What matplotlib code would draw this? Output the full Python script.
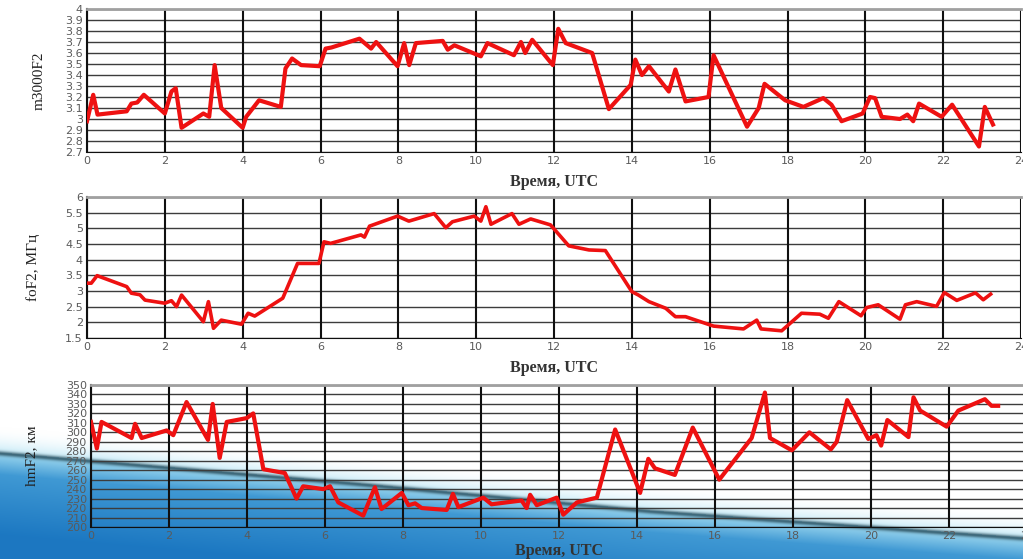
import numpy as np
import matplotlib
matplotlib.use("Agg")
import matplotlib.pyplot as plt

# m3000F2
t_m3000 = [0, 0.16, 0.27, 1.02, 1.14, 1.29, 1.46, 2.0, 2.17, 2.28, 2.43, 2.99, 3.14, 3.28, 3.45,
           4.0, 4.09, 4.42, 4.98, 5.1, 5.27, 5.5, 5.98, 6.13, 6.28, 7.0, 7.3, 7.43, 7.98, 8.15,
           8.28, 8.45, 9.14, 9.27, 9.44, 10.12, 10.29, 10.97, 11.15, 11.26, 11.44, 11.97, 12.11,
           12.3, 12.98, 13.41, 13.97, 14.09, 14.26, 14.44, 14.95, 15.12, 15.38, 15.97, 16.1,
           16.96, 17.26, 17.41, 17.94, 18.41, 18.92, 19.13, 19.39, 19.93, 20.12, 20.25, 20.42,
           20.89, 21.08, 21.23, 21.38, 21.96, 22.23, 22.92, 23.07, 23.28]
m3000 = [2.98, 3.22, 3.04, 3.07, 3.14, 3.15, 3.22, 3.05, 3.25, 3.28, 2.92, 3.05, 3.02, 3.49, 3.10,
         2.92, 3.02, 3.17, 3.11, 3.46, 3.55, 3.49, 3.48, 3.64, 3.65, 3.73, 3.64, 3.70, 3.48, 3.69,
         3.49, 3.69, 3.71, 3.63, 3.67, 3.57, 3.69, 3.58, 3.70, 3.60, 3.72, 3.49, 3.82,
         3.69, 3.60, 3.09, 3.31, 3.54, 3.40, 3.48, 3.25, 3.45, 3.16, 3.20, 3.58,
         2.93, 3.10, 3.32, 3.17, 3.11, 3.19, 3.13, 2.98, 3.05, 3.20, 3.19, 3.02,
         3.00, 3.04, 2.98, 3.14, 3.02, 3.13, 2.75, 3.11, 2.95]

# foF2
t_fof2 = [0, 0.11, 0.26, 1.02, 1.14, 1.36, 1.49, 2.0, 2.17, 2.3, 2.43, 2.99, 3.12, 3.25, 3.45,
          3.97, 4.14, 4.31, 5.03, 5.41, 5.96, 6.09, 6.26, 7.04, 7.13, 7.26, 7.98, 8.27, 8.92,
          9.22, 9.39, 9.95, 10.12, 10.25, 10.38, 10.92, 11.1, 11.4, 11.91, 12.38, 12.9, 13.32,
          14.0, 14.17, 14.44, 14.87, 15.12, 15.38, 16.1, 16.87, 17.21, 17.32, 17.85, 18.36,
          18.83, 19.05, 19.32, 19.89, 20.03, 20.33, 20.89, 21.03, 21.32, 21.83, 22.03, 22.35,
          22.83, 23.03, 23.22]
fof2 = [3.25, 3.25, 3.49, 3.14, 2.93, 2.88, 2.71, 2.61, 2.69, 2.50, 2.87, 2.02, 2.66, 1.81, 2.07,
        1.94, 2.29, 2.20, 2.77, 3.88, 3.88, 4.57, 4.52, 4.79, 4.72, 5.07, 5.39, 5.23, 5.47,
        5.02, 5.21, 5.39, 5.23, 5.69, 5.13, 5.47, 5.13, 5.30, 5.11, 4.44, 4.31, 4.29,
        2.98, 2.87, 2.66, 2.45, 2.18, 2.18, 1.88, 1.79, 2.07, 1.79, 1.73, 2.29,
        2.26, 2.13, 2.66, 2.21, 2.47, 2.56, 2.10, 2.56, 2.66, 2.51, 2.95, 2.70,
        2.94, 2.72, 2.90]

# hmF2
t_hmf2 = [0, 0.15, 0.27, 1.04, 1.13, 1.3, 1.94, 2.11, 2.45, 3.0, 3.12, 3.3, 3.48, 3.99, 4.16,
          4.42, 4.97, 5.27, 5.44, 5.96, 6.13, 6.34, 6.98, 7.28, 7.45, 7.97, 8.14, 8.31, 8.48,
          9.12, 9.28, 9.42, 10.06, 10.27, 11.04, 11.17, 11.26, 11.43, 11.94, 12.11, 12.46,
          12.97, 13.44, 14.08, 14.29, 14.46, 14.97, 15.43, 16.11, 16.94, 17.28, 17.41, 17.97,
          18.42, 18.97, 19.12, 19.39, 19.93, 20.14, 20.26, 20.42, 20.96, 21.09, 21.26, 21.94,
          22.24, 22.92, 23.09, 23.26]
hmf2 = [311, 283, 311, 294, 309, 294, 302, 297, 332, 292, 330, 273, 311, 315, 320,
        261, 257, 230, 243, 240, 243, 226, 212, 242, 219, 236, 223, 225, 220,
        218, 235, 221, 231, 224, 228, 220, 234, 223, 231, 213, 226,
        231, 303, 236, 272, 262, 255, 305, 250, 294, 342, 294, 281,
        300, 282, 290, 334, 293, 297, 286, 313, 295, 337, 323, 306,
        323, 335, 328, 328]

x_ticks = list(range(0, 25, 2))
xlabel = "Время, UTC"

W, H = 1023, 559
fig = plt.figure(figsize=(W / 100, H / 100), dpi=100)

# decorative blue swoosh of the slide background
bg = fig.add_axes([0, 0, 1, 1], zorder=-10)
yy, xx = np.mgrid[0:H, 0:W].astype(float)
edge = np.interp(xx, [0, 350, 650, 1023], [452, 482, 510, 537])
d = yy - edge
img = np.ones((H, W, 3))
cyan = np.array([0.78, 0.92, 0.97])
t_up = np.clip((d + 26) / 26, 0, 1) ** 2
img = img * (1 - t_up[..., None]) + cyan * t_up[..., None]
light = np.array([0.62, 0.85, 0.94])
mid = np.array([0.25, 0.60, 0.83])
deep = np.array([0.11, 0.47, 0.76])
below = d > 0
t1 = np.clip(d / 22, 0, 1)[..., None]
t2 = np.clip((d - 22) / 60, 0, 1)[..., None]
col_below = light * (1 - t1) + mid * t1
col_below = col_below * (1 - t2) + deep * t2
img[below] = col_below[below]
dark = np.array([0.13, 0.27, 0.33])
g = 0.75 * np.exp(-((d - 1) / 2.5) ** 2)[..., None]
img = img * (1 - g) + dark * g
bg.imshow(img, extent=[0, W, H, 0], aspect="auto", interpolation="bilinear")
bg.set_xlim(0, W)
bg.set_ylim(H, 0)
bg.axis("off")


def setup_axes(ax, ylim, yticks, ylabel, labelpad_y, labelpad_x=6):
    ax.set_xlim(0, 24)
    ax.set_ylim(*ylim)
    ax.set_xticks(x_ticks)
    ax.set_xticklabels([str(v) for v in x_ticks])
    ax.set_yticks(yticks)
    ax.set_yticklabels(["%g" % v for v in yticks])
    ax.tick_params(length=0, labelsize=8, labelcolor="#5a5a5a", pad=3)
    for v in yticks:
        ax.axhline(v, color="#3c3c3c", lw=1.0, zorder=1)
    for v in x_ticks:
        ax.axvline(v, color="#101010", lw=1.5, zorder=1)
    ax.spines["top"].set_color("#a0a0a0")
    ax.spines["top"].set_linewidth(2)
    ax.spines["right"].set_visible(False)
    ax.spines["left"].set_color("#101010")
    ax.spines["left"].set_linewidth(1.5)
    ax.spines["bottom"].set_color("#101010")
    ax.set_xlabel(xlabel, family="Liberation Serif", fontsize=11.5,
                  fontweight="bold", color="#333333", labelpad=labelpad_x)
    ax.set_ylabel(ylabel, family="Liberation Serif", fontsize=11,
                  color="#222222", labelpad=labelpad_y)


ax1 = fig.add_axes([87 / W, 1 - 152 / H, 934 / W, 143 / H])
setup_axes(ax1, (2.7, 4.0), [round(2.7 + 0.1 * i, 1) for i in range(14)], "m3000F2", 14)
ax1.plot(t_m3000, m3000, color="#ee1111", lw=3.0, zorder=3)

ax2 = fig.add_axes([87 / W, 1 - 338 / H, 934 / W, 141 / H])
setup_axes(ax2, (1.5, 6.0), [1.5 + 0.5 * i for i in range(10)], "foF2, МГц", 18)
ax2.plot(t_fof2, fof2, color="#ee1111", lw=2.6, zorder=3)

ax3 = fig.add_axes([91 / W, 1 - 527 / H, 936 / W, 142 / H])
ax3.set_facecolor("none")
setup_axes(ax3, (200, 350), list(range(200, 351, 10)), "hmF2, км", 20, labelpad_x=1)
ax3.plot(t_hmf2, hmf2, color="#ee1111", lw=3.0, zorder=3)

fig.savefig("out.png", dpi=100)
